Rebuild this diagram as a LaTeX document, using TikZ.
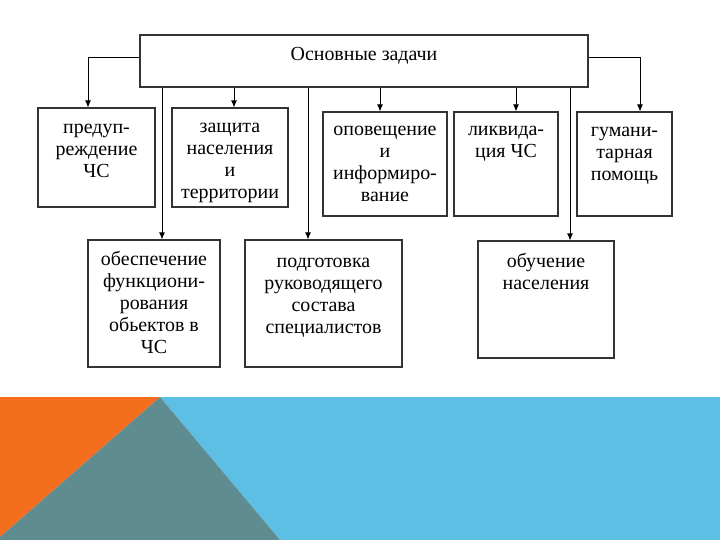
\documentclass[tikz,border=0pt]{standalone}
\usepackage{fontspec}
\setmainfont{Liberation Serif}
\usetikzlibrary{arrows.meta}
\definecolor{orangeC}{RGB}{245,110,30}
\definecolor{tealC}{RGB}{94,140,145}
\definecolor{blueC}{RGB}{94,191,228}
\tikzset{
  box/.style={draw=black!80,line width=1.2bp,fill=white,inner sep=0pt},
  txt/.style={font=\fontsize{20}{22}\selectfont,align=center,inner sep=0pt,anchor=north,execute at begin node={\rule{0pt}{15bp}}},
  arr/.style={draw=black,line width=0.8bp,-{Latex[length=7bp,width=6bp]}},
  ln/.style={draw=black,line width=0.8bp}
}
\begin{document}
\begin{tikzpicture}[x=1bp,y=-1bp]
\useasboundingbox (0,0) rectangle (720,540);
% background band
\fill[blueC] (160,397) -- (720,397) -- (720,540) -- (280,540) -- cycle;
\fill[orangeC] (0,397) -- (160,397) -- (0,537) -- cycle;
\fill[tealC] (160,397) -- (280,540) -- (0,540) -- (0,537) -- cycle;
% main box
\node[box,minimum width=448bp,minimum height=52bp] (main) at (364,61) {};
\node[txt] at ([yshift=-11bp]main.north) {Основные задачи};
% row 1
\node[box,minimum width=117bp,minimum height=99bp] (b1) at (96.5,157.5) {};
\node[txt] at ([yshift=-17bp]b1.north) {предуп-\\реждение\\ЧС};
\node[box,minimum width=116bp,minimum height=99bp] (b2) at (230,157.5) {};
\node[txt] at ([yshift=-16bp]b2.north) {защита\\населения\\и\\территории};
\node[box,minimum width=124bp,minimum height=104bp] (b3) at (385,164) {};
\node[txt] at ([yshift=-15bp]b3.north) {оповещение\\и\\информиро-\\вание};
\node[box,minimum width=104bp,minimum height=104bp] (b4) at (506,164) {};
\node[txt] at ([yshift=-15bp]b4.north) {ликвида-\\ция ЧС};
\node[box,minimum width=95bp,minimum height=104bp] (b5) at (624.5,164) {};
\node[txt] at ([yshift=-16bp]b5.north) {гумани-\\тарная\\помощь};
% row 2
\node[box,minimum width=132bp,minimum height=127bp] (b7) at (154,303.5) {};
\node[txt] at ([yshift=-12bp]b7.north) {обеспечение\\функциони-\\рования\\обьектов в\\ЧС};
\node[box,minimum width=157bp,minimum height=127bp] (b8) at (323.5,303.5) {};
\node[txt] at ([yshift=-19bp]b8.north) {подготовка\\руководящего\\состава\\специалистов};
\node[box,minimum width=136bp,minimum height=117bp] (b9) at (546,299.5) {};
\node[txt] at ([yshift=-13bp]b9.north) {обучение\\населения};
% connector x positions
\coordinate (xl) at (88,57);
\coordinate (xr) at (640,57);
\coordinate (x7) at (162,0);
\coordinate (x2) at (234,0);
\coordinate (x8) at (308,0);
\coordinate (x3) at (380,0);
\coordinate (x4) at (516,0);
\coordinate (x9) at (570,0);
% connectors
\draw[arr] (main.west |- xl) -- (xl) -- (b1.north -| xl);
\draw[arr] (main.east |- xr) -- (xr) -- (b5.north -| xr);
\draw[arr] (main.south -| x7) -- (b7.north -| x7);
\draw[arr] (main.south -| x2) -- (b2.north -| x2);
\draw[arr] (main.south -| x8) -- (b8.north -| x8);
\draw[arr] (main.south -| x3) -- (b3.north -| x3);
\draw[arr] (main.south -| x4) -- (b4.north -| x4);
\draw[arr] (main.south -| x9) -- (b9.north -| x9);
\end{tikzpicture}
\end{document}
